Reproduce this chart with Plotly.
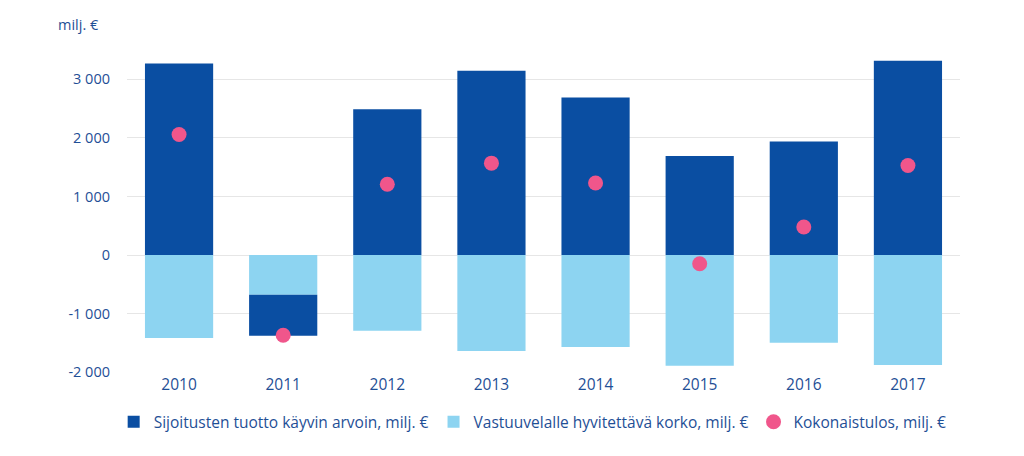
import plotly.graph_objects as go

years = ["2010", "2011", "2012", "2013", "2014", "2015", "2016", "2017"]
sijoitus = [3270, -700, 2490, 3150, 2690, 1690, 1940, 3320]
vastuu = [-1415, -680, -1295, -1640, -1570, -1890, -1500, -1880]
kokonais = [2060, -1370, 1210, 1570, 1230, -150, 480, 1530]

tick_vals = [-2000, -1000, 0, 1000, 2000, 3000]
tick_text = ["-2 000", "-1 000", "0", "1 000", "2 000", "3 000"]

dark = "#0a4ea2"
light = "#8dd4f1"
pink = "#f0568b"
txt = "#1f4f96"

fig = go.Figure()
fig.add_trace(go.Bar(x=years, y=vastuu, name="Vastuuvelalle hyvitettävä korko, milj. €",
                     marker=dict(color=light, line=dict(width=0)), legendrank=2))
fig.add_trace(go.Bar(x=years, y=sijoitus, name="Sijoitusten tuotto käyvin arvoin, milj. €",
                     marker=dict(color=dark, line=dict(width=0)), legendrank=1))
fig.add_trace(go.Scatter(x=years, y=kokonais, name="Kokonaistulos, milj. €", mode="markers",
                         marker=dict(color=pink, size=15, line=dict(width=0)), legendrank=3))

fig.update_layout(
    width=1024, height=456,
    barmode="relative", bargap=0.345,
    plot_bgcolor="white", paper_bgcolor="white",
    margin=dict(l=119, r=72, t=48, b=91, autoexpand=False),
    font=dict(family="Open Sans, Noto Sans, sans-serif", size=14, color=txt),
    xaxis=dict(showgrid=False, showline=False, ticks="", tickfont=dict(size=15.5, color=txt)),
    yaxis=dict(range=[-2015, 3400], tickvals=tick_vals, ticktext=tick_text,
               showgrid=True, gridcolor="#e6e6e6", gridwidth=1, zeroline=False,
               showline=False, ticks="", ticklabelstandoff=16,
               tickfont=dict(size=14.5, color=txt)),
    legend=dict(orientation="h", x=0.487, xanchor="center", y=-0.155, yanchor="middle",
                font=dict(size=15.5, color=txt), itemwidth=30, traceorder="normal"),
    showlegend=True,
    annotations=[dict(text="milj. €", xref="paper", yref="paper", x=-0.085, y=1.10,
                      xanchor="left", yanchor="middle", showarrow=False,
                      font=dict(size=14.5, color=txt))],
)

fig.write_html("out.html")
